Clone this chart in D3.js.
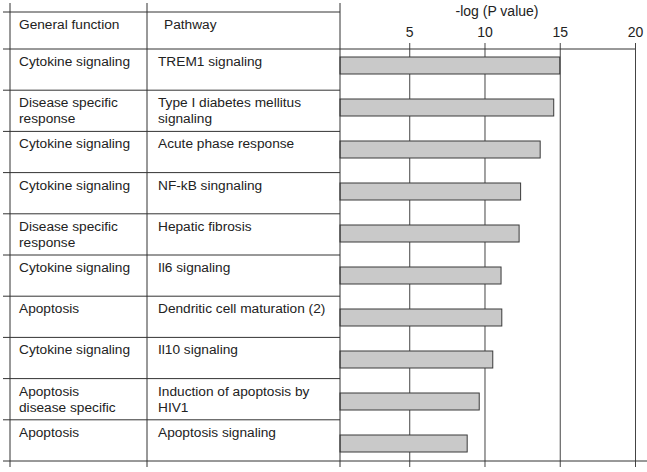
<!DOCTYPE html>
<html>
<head>
<meta charset="utf-8">
<script src="https://cdn.jsdelivr.net/npm/d3@7"></script>
<style>
  body { margin: 0; background: #fff; }
  text { font-family: "Liberation Sans", Arial, sans-serif; fill: #222; }
</style>
</head>
<body>
<div id="chart"></div>
<script>
// table columns + bar values (-log P)
var functions = [
    ["Cytokine signaling"],
    ["Disease specific", "response"],
    ["Cytokine signaling"],
    ["Cytokine signaling"],
    ["Disease specific", "response"],
    ["Cytokine signaling"],
    ["Apoptosis"],
    ["Cytokine signaling"],
    ["Apoptosis", "disease specific"],
    ["Apoptosis"]
];
var pathways = [
    ["TREM1 signaling"],
    ["Type I diabetes mellitus", "signaling"],
    ["Acute phase response"],
    ["NF-kB singnaling"],
    ["Hepatic fibrosis"],
    ["Il6 signaling"],
    ["Dendritic cell maturation (2)"],
    ["Il10 signaling"],
    ["Induction of apoptosis by", "HIV1"],
    ["Apoptosis signaling"]
];
var logP = [15.0, 14.6, 13.7, 12.4, 12.3, 11.1, 11.15, 10.55, 9.65, 8.85];
var ticks = [5, 10, 15, 20];
var headers = ["General function", "Pathway"];
var axisTitle = "-log (P value)";

var width = 647, height = 472;
var colX = [10, 147, 340];
var tableTop = 12, rowTop = 49, rowBottom = 461, gridBottom = 467;

var svg = d3.select("#chart").append("svg")
    .attr("width", width)
    .attr("height", height);

var idx = d3.range(logP.length);

// rows of the table
var yRow = d3.scaleBand().domain(idx).range([rowTop, rowBottom]);
// bars sit on a slightly different pitch than the table rows
var yBar = d3.scaleBand().domain(idx).range([47, 467]);

var xScale = d3.scaleLinear().domain([0.4, 20]).range([340, 635]);

var lineColor = "#333";

// grid lines + labels
var axis = svg.append("g")
    .attr("transform", `translate(0, ${rowTop})`)
    .call(d3.axisTop(xScale).tickValues(ticks)
        .tickSizeInner(-(gridBottom - rowTop)).tickSizeOuter(0).tickPadding(12));
axis.select(".domain").remove();
axis.selectAll("line").attr("stroke", "#444");
axis.selectAll("text").style("font-size", "14px").attr("fill", "#222")
    .style("font-family", "Liberation Sans, Arial, sans-serif");

// small ticks above the axis
var axisTicks = svg.append("g")
    .attr("transform", `translate(0, ${rowTop})`)
    .call(d3.axisTop(xScale).tickValues(ticks).tickSize(6).tickFormat(""));
axisTicks.select(".domain").remove();
axisTicks.selectAll("line").attr("stroke", "#444");

svg.append("text")
    .attr("x", 497)
    .attr("y", 16)
    .attr("text-anchor", "middle")
    .style("font-size", "14px")
    .text(axisTitle);

// bars
svg.selectAll("rect.bar")
    .data(idx)
    .enter()
    .append("rect")
    .attr("class", "bar")
    .attr("x", xScale(0.4))
    .attr("y", function(d){ return yBar(d) + 10; })
    .attr("width", function(d){ return xScale(logP[d]) - xScale(0.4); })
    .attr("height", 17)
    .attr("fill", "#c9c9c9")
    .attr("stroke", "#3a3a3a")
    .attr("stroke-width", 1);

// table vertical lines
svg.selectAll("line.col")
    .data(colX)
    .enter()
    .append("line")
    .attr("class", "col")
    .attr("x1", function(d){ return d; })
    .attr("x2", function(d){ return d; })
    .attr("y1", 3)
    .attr("y2", gridBottom)
    .attr("stroke", lineColor);

// table horizontal lines
svg.append("line")
    .attr("x1", 3).attr("x2", 340)
    .attr("y1", tableTop).attr("y2", tableTop)
    .attr("stroke", lineColor);

svg.selectAll("line.row")
    .data(idx.slice(1))
    .enter()
    .append("line")
    .attr("class", "row")
    .attr("x1", 3).attr("x2", 340)
    .attr("y1", function(d){ return yRow(d); })
    .attr("y2", function(d){ return yRow(d); })
    .attr("stroke", lineColor);

svg.append("line")
    .attr("x1", 3).attr("x2", 635)
    .attr("y1", rowTop).attr("y2", rowTop)
    .attr("stroke", lineColor);

svg.append("line")
    .attr("x1", 3).attr("x2", 647)
    .attr("y1", rowBottom).attr("y2", rowBottom)
    .attr("stroke", lineColor);

// header text
svg.append("text").attr("x", 19).attr("y", 29).style("font-size", "13.7px").text(headers[0]);
svg.append("text").attr("x", 164).attr("y", 29).style("font-size", "13.7px").text(headers[1]);

// cell text
function cell(col, x) {
    var t = svg.selectAll("text.c" + x)
        .data(idx)
        .enter()
        .append("text")
        .attr("class", "c" + x)
        .attr("x", x)
        .attr("y", function(d){ return yRow(d) + 17; })
        .style("font-size", "13.7px");
    t.selectAll("tspan")
        .data(function(d){ return col[d]; })
        .enter()
        .append("tspan")
        .attr("x", x)
        .attr("dy", function(d, i){ return i === 0 ? 0 : 16; })
        .text(function(d){ return d; });
}
cell(functions, 19);
cell(pathways, 158);
</script>
</body>
</html>
